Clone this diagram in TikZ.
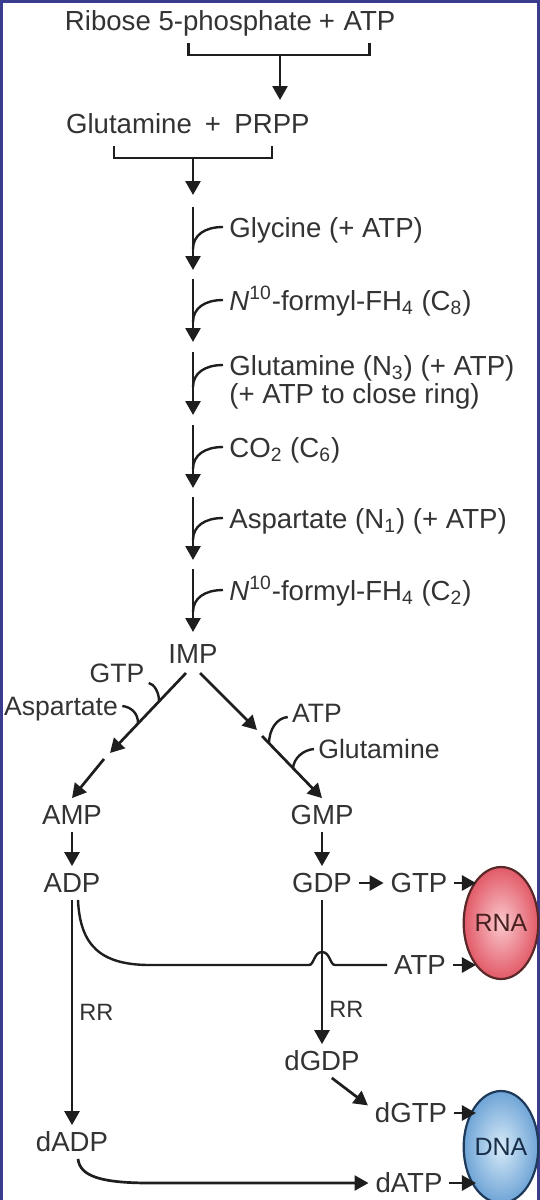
\documentclass[tikz,border=0pt]{standalone}
\usepackage{fontspec}
\setmainfont{Liberation Sans}
\usetikzlibrary{arrows.meta,shapes.geometric}
\definecolor{inkgray}{HTML}{333333}
\definecolor{linegray}{HTML}{1E1E1E}
\definecolor{framenavy}{HTML}{3C3C8E}
\definecolor{rnared}{HTML}{E25A68}
\definecolor{rnapink}{HTML}{FAC8CC}
\definecolor{rnaedge}{HTML}{5A2828}
\definecolor{dnablue}{HTML}{6FA4D6}
\definecolor{dnalight}{HTML}{D6EAF8}
\definecolor{dnaedge}{HTML}{1E3A5A}
\tikzset{
  arr/.style={line width=1.35pt,draw=linegray,-{Triangle[length=7pt,width=7.5pt]}},
  hook/.style={line width=1.2pt,draw=linegray},
  brk/.style={line width=1.1pt,draw=linegray},
  txt/.style={inner sep=0pt,text=inkgray,font=\fontsize{13.8}{14}\selectfont},
  comp/.style={txt,outer sep=3.5pt,text height=9.9pt,text depth=0pt},
  side/.style={inner sep=0pt,text=inkgray,text height=9.6pt,text depth=0pt,font=\fontsize{13.3}{14}\selectfont},
  rr/.style={inner sep=3pt,text=inkgray,font=\fontsize{11.8}{12}\selectfont},
  acid/.style={ellipse,draw,line width=1.1pt,minimum width=30pt,minimum height=56pt,inner sep=0pt,font=\fontsize{12.5}{13}\selectfont}
}
\begin{document}
\begin{tikzpicture}[x=0.5pt,y=-0.5pt]
  \useasboundingbox (0,0) rectangle (540,1200);
  \draw[framenavy,line width=1.5pt] (1.5,1200) -- (1.5,1.5) -- (538.5,1.5) -- (538.5,1200);
  % PRPP formation
  \node[txt,anchor=base] (r5p) at (188.5,30) {Ribose 5-phosphate};
  \node[txt,anchor=base] (plusA) at (327,30) {+};
  \node[txt,anchor=base] (atpA) at (369.5,30) {ATP};
  \draw[brk] (r5p |- 0,43) -- (r5p |- 0,55) -- (atpA |- 0,55) -- (atpA |- 0,43);
  \coordinate (mixA) at (280,55);
  \coordinate (endA) at (280,100);
  \draw[arr] (mixA) -- (endA);
  \node[txt,anchor=base] (glnA) at (129,133) {Glutamine};
  \node[txt,anchor=base] (plusB) at (213,133) {+};
  \node[txt,anchor=base] (prpp) at (272,133) {PRPP};
  \draw[brk] (114,146) -- (114,158) -- (prpp |- 0,158) -- (prpp |- 0,146);
  \coordinate (mixB) at (193,158);
  \coordinate (endB) at (193,195);
  \draw[arr] (mixB) -- (endB);
  % ring assembly
  \foreach \s/\ly/\by/\lab [count=\k] in {207/227/237/{Glycine (+ ATP)},
      279/300/310/{\textit{N}\textsuperscript{10}-formyl-FH\textsubscript{4} (C\textsubscript{8})},
      352/365/403/{Glutamine (N\textsubscript{3}) (+ ATP)\\(+ ATP to close ring)},
      425/447/457/{CO\textsubscript{2} (C\textsubscript{6})},
      497/518/528/{Aspartate (N\textsubscript{1}) (+ ATP)},
      569/590/600/{\textit{N}\textsuperscript{10}-formyl-FH\textsubscript{4} (C\textsubscript{2})}}{
    \coordinate (top\k) at (193,\s);
    \coordinate (tip\k) at (193,\s+63);
    \draw[arr] (top\k) -- (tip\k);
    \draw[hook] (223,\ly) .. controls (205,\ly) and (193,\ly+8) .. (193,\ly+22);
    \node[txt,anchor=base west,align=left] (add\k) at (229,\by) {\lab};
  }
  % branch point
  \node[comp] (imp) at (193,654) {IMP};
  \node[comp] (amp) at (72,815) {AMP};
  \node[comp] (gmp) at (322,815) {GMP};
  \coordinate (la) at (186,673);
  \coordinate (lb) at (110,753);
  \coordinate (lc) at (104,759);
  \coordinate (ra) at (200,673);
  \coordinate (rb) at (257,730);
  \coordinate (rc) at (262,736);
  \draw[arr] (la) -- (lb);
  \draw[arr] (lc) -- (amp.north);
  \draw[arr] (ra) -- (rb);
  \draw[arr] (rc) -- (gmp.north);
  \node[side] (gtpB) at (117,673) {GTP};
  \node[side] (aspB) at (61,706) {Aspartate};
  \node[side] (atpB) at (317,713) {ATP};
  \node[side] (glnB) at (379,749) {Glutamine};
  \draw[hook] ([xshift=2pt]gtpB.south east) .. controls (154,684) and (159,692) .. (159,701);
  \draw[hook] ([xshift=2pt]aspB.east) .. controls (131,707) and (138,713) .. (138,723);
  \draw[hook] ([xshift=-2pt,yshift=-2pt]atpB.west) .. controls (277,718) and (269,729) .. (269,744);
  \draw[hook] ([xshift=-2pt]glnB.west) .. controls (303,750) and (294,758) .. (293,768);
  % phosphorylation
  \node[comp] (adp) at (72,883) {ADP};
  \node[comp] (gdp) at (322,883) {GDP};
  \node[comp] (gtpC) at (419,883) {GTP};
  \node[comp] (atpC) at (420,965) {ATP};
  \node[acid,draw=rnaedge,text=rnaedge!80!black,inner color=rnapink,outer color=rnared] (rna) at (501,923) {RNA};
  \draw[arr] (amp) -- (adp);
  \draw[arr] (gmp) -- (gdp);
  \draw[arr] (gdp) -- (gtpC);
  \draw[arr] (gtpC.east) -- (gtpC.east -| rna.120);
  \draw[arr] (atpC.east) -- (atpC.east -| rna.240);
  \draw[hook] ([xshift=3pt]adp.south) .. controls (80,945) and (100,965) .. (150,965) -- (309,965)
    .. controls (314,965) and (314,952) .. (322,952) .. controls (330,952) and (330,965) .. (335,965) -- (atpC.west);
  % deoxy forms
  \node[comp] (dgdp) at (322,1061) {dGDP};
  \node[comp] (dgtp) at (411,1113) {dGTP};
  \node[comp] (dadp) at (72,1142) {dADP};
  \node[comp] (datp) at (409,1183) {dATP};
  \node[acid,draw=dnaedge,text=dnaedge!80!black,inner color=dnalight,outer color=dnablue] (dna) at (501,1147) {DNA};
  \draw[arr] (adp) -- node[rr,right] {RR} (dadp);
  \draw[arr] (gdp) -- node[rr,right,pos=0.76] {RR} (dgdp);
  \draw[arr] (dgdp.-60) -- (dgtp.170);
  \draw[arr] (dgtp.east) -- (dgtp.east -| dna.120);
  \draw[arr] ([xshift=3pt]dadp.south) .. controls (80,1176) and (100,1183) .. (150,1183) -- (datp.west);
  \draw[arr] (datp.east) -- (datp.east -| dna.240);
\end{tikzpicture}
\end{document}
